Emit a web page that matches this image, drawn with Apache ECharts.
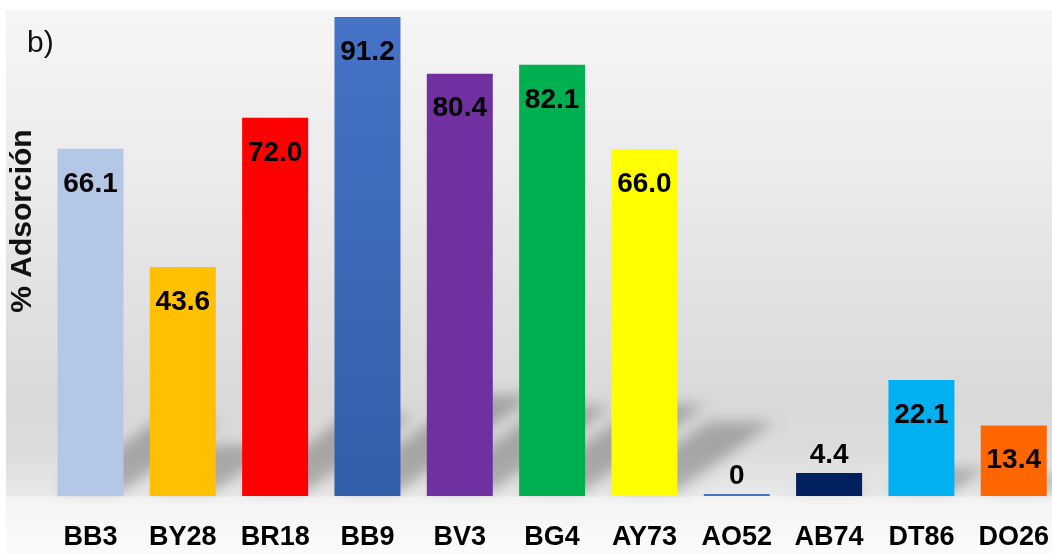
<!DOCTYPE html>
<html>
<head>
<meta charset="utf-8">
<script src="https://cdn.jsdelivr.net/npm/echarts@6/dist/echarts.min.js"></script>
<style>
  html, body { margin: 0; padding: 0; background: #ffffff; }
  #chart { width: 1052px; height: 554px; }
</style>
</head>
<body>
<div id="chart"></div>
<script>
// Dyes and their adsorption percentage
const categories = ['BB3', 'BY28', 'BR18', 'BB9', 'BV3', 'BG4', 'AY73', 'AO52', 'AB74', 'DT86', 'DO26'];
const adsorption = [66.1, 43.6, 72.0, 91.2, 80.4, 82.1, 66.0, 0, 4.4, 22.1, 13.4];
const yAxisTitle = '% Adsorción';
const panelTag = 'b)';

// Fill colour of each dye bar
const barColors = ['#b4c7e7', '#ffc000', '#ff0000', '#4472c4', '#7030a0', '#00b050',
                   '#ffff00', '#4472c4', '#002060', '#00b0f0', '#ff6600'];
// Bars whose value label sits above the bar instead of inside it
const labelAbove = ['AO52', 'AB74'];

const BAR_W = 66;
const textFont = '"Liberation Sans", Arial, sans-serif';

function fmt(v) { return v === 0 ? '0' : v.toFixed(1); }

const barData = adsorption.map((v, i) => {
  let color = barColors[i];
  if (categories[i] === 'BB9') {
    color = { type: 'linear', x: 0, y: 0, x2: 0, y2: 1,
      colorStops: [{ offset: 0, color: '#4673c6' }, { offset: 1, color: '#335ea9' }] };
  }
  const above = labelAbove.includes(categories[i]);
  return {
    value: v,
    itemStyle: { color: color },
    label: above ? { position: 'top', distance: 4 } : { position: 'insideTop', distance: 21 }
  };
});

// Slanted floor shadow cast by each bar, drawn from its own value
function renderShadow(params, api) {
  const idx = api.value(0);
  const v = api.value(1);
  const base = api.coord([idx, 0]);
  const top = api.coord([idx, v]);
  const h = base[1] - top[1];
  if (h < 4) return null;
  const half = BAR_W / 2;
  const OFF = 3000;
  const yb = base[1] - 5;
  const dx = h * 0.28, dy = h * 0.20;
  const x0 = base[0] - half - OFF, x1 = base[0] + half - OFF;
  return {
    type: 'polygon',
    shape: { points: [[x0, yb], [x1, yb], [x1 + dx, yb - dy], [x0 + dx, yb - dy]] },
    style: {
      fill: '#000',
      shadowColor: 'rgba(0,0,0,0.25)',
      shadowBlur: 14,
      shadowOffsetX: OFF,
      shadowOffsetY: 0
    },
    silent: true
  };
}

const chart = echarts.init(document.getElementById('chart'), null, { renderer: 'canvas' });

const option = {
  animation: false,
  backgroundColor: '#ffffff',
  grid: { left: 90.5, right: 33, top: 0, bottom: 58, containLabel: false },
  graphic: [
    {
      type: 'rect', z: -10, silent: true,
      shape: { x: 6, y: 10, width: 1046, height: 544 },
      style: {
        fill: { type: 'linear', x: 0, y: 0, x2: 0, y2: 1,
          colorStops: [
            { offset: 0, color: '#f6f6f6' },
            { offset: 0.35, color: '#e9e9e9' },
            { offset: 0.717, color: '#d9d9d9' },
            { offset: 0.81, color: '#dcdcdc' },
            { offset: 0.893, color: '#e9e9e9' },
            { offset: 0.896, color: '#f4f4f4' },
            { offset: 1, color: '#fbfbfb' }
          ] }
      }
    },
    {
      type: 'text', z: 10, silent: true,
      x: 27, y: 44,
      style: { text: panelTag, font: '30px ' + textFont,
               fill: '#111', align: 'left', verticalAlign: 'middle' }
    },
    {
      type: 'text', z: 10, silent: true,
      x: 23, y: 221, rotation: Math.PI / 2,
      style: { text: yAxisTitle, font: 'bold 30px ' + textFont,
               fill: '#111', align: 'center', verticalAlign: 'middle' }
    }
  ],
  xAxis: {
    type: 'category',
    data: categories,
    boundaryGap: false,
    axisLine: { show: false },
    axisTick: { show: false },
    axisLabel: {
      interval: 0,
      margin: 28,
      color: '#000',
      fontFamily: textFont,
      fontWeight: 'bold',
      fontSize: 27
    }
  },
  yAxis: {
    type: 'value',
    min: 0, max: 94.44,
    axisLine: { show: false },
    axisTick: { show: false },
    axisLabel: { show: false },
    splitLine: { show: false }
  },
  series: [
    {
      type: 'custom',
      z: 1,
      clip: false,
      data: adsorption.map((v, i) => [i, v]),
      encode: { x: 0, y: 1 },
      renderItem: renderShadow
    },
    {
      type: 'bar',
      z: 3,
      clip: false,
      barWidth: BAR_W,
      barMinHeight: 2,
      data: barData,
      label: {
        show: true,
        color: '#000',
        fontFamily: textFont,
        fontWeight: 'bold',
        fontSize: 28,
        formatter: p => fmt(p.value)
      }
    }
  ]
};

chart.setOption(option);
</script>
</body>
</html>
